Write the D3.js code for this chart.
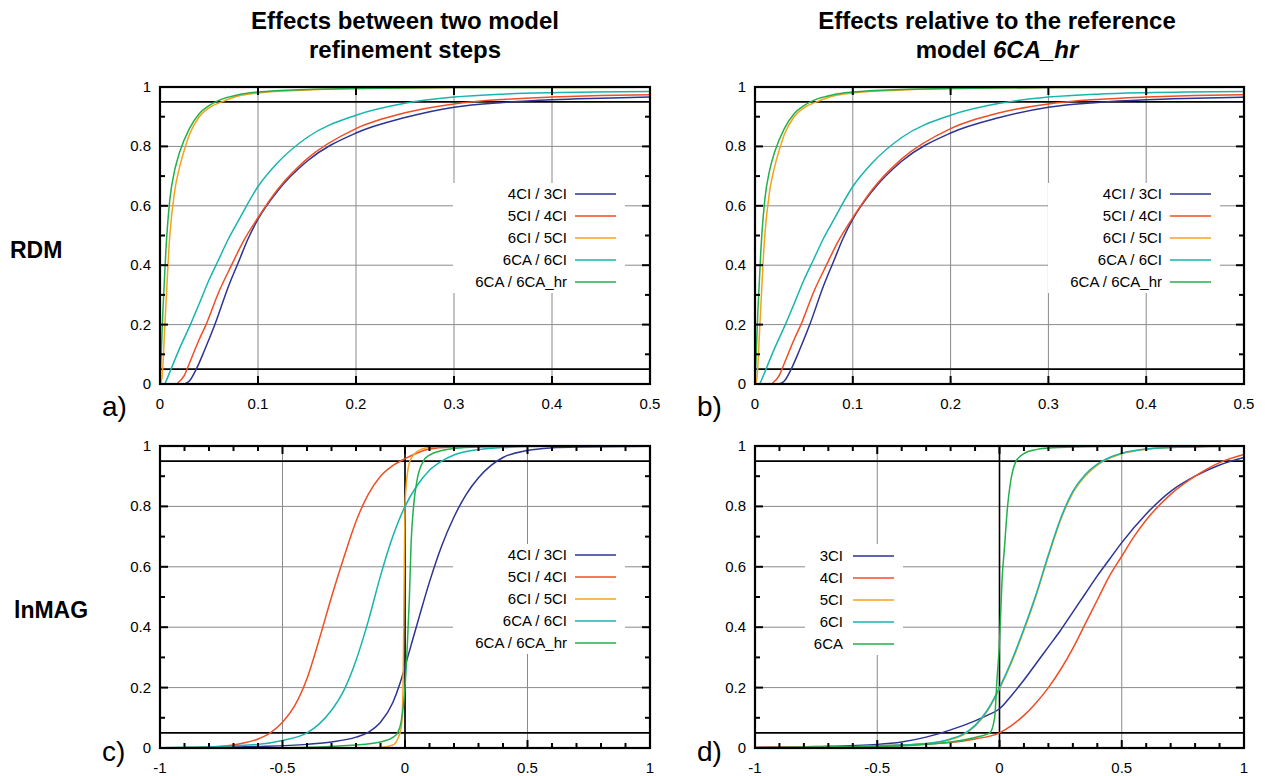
<!DOCTYPE html>
<html><head><meta charset="utf-8">
<script src="https://cdn.jsdelivr.net/npm/d3@7"></script>
<style>body{margin:0;background:#fff}svg{display:block;font-family:"Liberation Sans",Arial,sans-serif}</style>
</head><body>
<svg id="chart" width="1265" height="776"></svg>
<script>
// ---------- data ----------
const legendLeft = ["4CI / 3CI","5CI / 4CI","6CI / 5CI","6CA / 6CI","6CA / 6CA_hr"];
const legendRight = ["3CI","4CI","5CI","6CI","6CA"];
const colors = ["#2c3494","#f04e23","#f7a21b","#17b5ad","#22b04b"];

const rdmTicksX = [0,0.1,0.2,0.3,0.4,0.5];
const magTicksX = [-1,-0.5,0,0.5,1];
const magMinorX = [-0.9,-0.8,-0.7,-0.6,-0.4,-0.3,-0.2,-0.1,0.1,0.2,0.3,0.4,0.6,0.7,0.8,0.9];
const ticksY = [0,0.2,0.4,0.6,0.8,1];
const minorY = [0.1,0.3,0.5,0.7,0.9];
const refLines = [0.05,0.95];

// RDM: effects between steps (panel a) and relative to 6CA_hr (panel b)
const rdm_4CI_3CI = [[0.025,0],[0.03,0.01],[0.037,0.05],[0.045,0.11],[0.056,0.2],[0.07,0.33],[0.08,0.41],[0.09,0.49],[0.1,0.555],[0.12,0.65],[0.15,0.75],[0.2,0.845],[0.25,0.897],[0.3,0.932],[0.35,0.948],[0.4,0.957],[0.45,0.962],[0.5,0.966]];
const rdm_5CI_4CI = [[0.017,0],[0.025,0.03],[0.03,0.07],[0.04,0.15],[0.047,0.2],[0.06,0.31],[0.073,0.4],[0.085,0.48],[0.1,0.56],[0.12,0.655],[0.15,0.758],[0.2,0.86],[0.25,0.913],[0.3,0.943],[0.35,0.958],[0.4,0.966],[0.45,0.971],[0.5,0.974]];
const rdm_6CI_5CI = [[0,0],[0.002,0.02],[0.005,0.2],[0.01,0.5],[0.015,0.65],[0.02,0.73],[0.026,0.8],[0.03,0.84],[0.04,0.9],[0.05,0.93],[0.063,0.95],[0.08,0.97],[0.1,0.98],[0.15,0.99],[0.2,0.995],[0.3,0.998],[0.5,0.999]];
const rdm_6CA_6CI = [[0.005,0],[0.01,0.04],[0.02,0.12],[0.031,0.2],[0.04,0.27],[0.05,0.35],[0.06,0.42],[0.07,0.49],[0.08,0.55],[0.1,0.665],[0.12,0.745],[0.15,0.83],[0.2,0.905],[0.25,0.945],[0.3,0.966],[0.35,0.976],[0.4,0.981],[0.5,0.985]];
const rdm_6CA_6CAhr = [[0,0],[0.003,0.25],[0.006,0.45],[0.01,0.62],[0.015,0.72],[0.02,0.78],[0.03,0.86],[0.04,0.91],[0.05,0.937],[0.06,0.955],[0.07,0.966],[0.08,0.974],[0.1,0.983],[0.15,0.992],[0.2,0.995],[0.3,0.998],[0.5,0.999]];

// lnMAG: effects between steps (panel c)
const mag_4CI_3CI = [[-1,0.001],[-0.8,0.002],[-0.6,0.005],[-0.4,0.012],[-0.3,0.02],[-0.2,0.036],[-0.15,0.052],[-0.1,0.085],[-0.05,0.15],[-0.02,0.215],[0,0.27],[0.03,0.355],[0.06,0.44],[0.1,0.55],[0.15,0.67],[0.2,0.765],[0.25,0.84],[0.3,0.895],[0.35,0.935],[0.4,0.962],[0.5,0.985],[0.6,0.994],[0.7,0.997],[1,0.999]];
const mag_5CI_4CI = [[-1,0],[-0.9,0.001],[-0.8,0.003],[-0.7,0.01],[-0.65,0.018],[-0.6,0.03],[-0.55,0.05],[-0.5,0.085],[-0.45,0.14],[-0.4,0.23],[-0.35,0.36],[-0.3,0.5],[-0.25,0.63],[-0.2,0.75],[-0.15,0.84],[-0.1,0.9],[-0.05,0.935],[0,0.958],[0.05,0.977],[0.1,0.99],[0.2,0.997],[0.3,0.999],[1,1]];
const mag_6CI_5CI = [[-0.3,0],[-0.1,0.002],[-0.05,0.01],[-0.03,0.03],[-0.015,0.07],[-0.008,0.2],[-0.004,0.5],[0,0.8],[0.01,0.91],[0.02,0.95],[0.04,0.975],[0.07,0.99],[0.1,0.995],[0.2,0.999],[1,1]];
const mag_6CA_6CI = [[-1,0.001],[-0.8,0.004],[-0.6,0.012],[-0.5,0.025],[-0.4,0.05],[-0.35,0.08],[-0.3,0.125],[-0.25,0.19],[-0.2,0.29],[-0.15,0.42],[-0.1,0.57],[-0.05,0.7],[0,0.8],[0.05,0.87],[0.1,0.92],[0.15,0.95],[0.2,0.97],[0.3,0.988],[0.4,0.995],[0.6,0.999],[1,1]];
const mag_6CA_6CAhr = [[-1,0],[-0.5,0.001],[-0.2,0.01],[-0.1,0.02],[-0.05,0.035],[-0.03,0.05],[-0.015,0.09],[0,0.2],[0.01,0.35],[0.018,0.5],[0.025,0.68],[0.035,0.8],[0.05,0.89],[0.075,0.95],[0.1,0.97],[0.15,0.985],[0.2,0.992],[0.3,0.997],[0.5,0.999],[1,1]];

// lnMAG: relative to 6CA_hr (panel d)
const magRef_3CI = [[-1,0.002],[-0.75,0.005],[-0.5,0.012],[-0.4,0.02],[-0.3,0.036],[-0.2,0.06],[-0.1,0.09],[-0.05,0.108],[0,0.13],[0.05,0.175],[0.1,0.225],[0.15,0.28],[0.2,0.335],[0.25,0.39],[0.3,0.45],[0.35,0.51],[0.4,0.57],[0.45,0.625],[0.5,0.68],[0.6,0.775],[0.7,0.85],[0.8,0.9],[0.9,0.937],[1,0.962]];
const magRef_4CI = [[-1,0.002],[-0.6,0.005],[-0.4,0.01],[-0.2,0.018],[-0.1,0.03],[0,0.05],[0.05,0.075],[0.1,0.108],[0.15,0.15],[0.2,0.2],[0.25,0.26],[0.3,0.33],[0.35,0.41],[0.4,0.49],[0.45,0.57],[0.5,0.635],[0.55,0.7],[0.6,0.755],[0.7,0.84],[0.8,0.9],[0.9,0.945],[1,0.972]];
const magRef_5CI = [[-1,0.001],[-0.7,0.003],[-0.5,0.006],[-0.3,0.014],[-0.2,0.028],[-0.15,0.043],[-0.1,0.072],[-0.05,0.122],[0,0.196],[0.05,0.285],[0.1,0.39],[0.15,0.505],[0.2,0.635],[0.25,0.755],[0.3,0.845],[0.35,0.9],[0.4,0.937],[0.45,0.96],[0.5,0.974],[0.6,0.989],[0.7,0.995],[0.85,0.998],[1,0.999]];
const magRef_6CI = [[-1,0.001],[-0.7,0.003],[-0.5,0.007],[-0.3,0.015],[-0.2,0.03],[-0.15,0.045],[-0.1,0.075],[-0.05,0.125],[0,0.2],[0.05,0.29],[0.1,0.395],[0.15,0.51],[0.2,0.64],[0.25,0.76],[0.3,0.85],[0.35,0.905],[0.4,0.94],[0.45,0.962],[0.5,0.976],[0.6,0.99],[0.7,0.995],[0.85,0.998],[1,0.999]];
const magRef_6CA = [[-1,0.001],[-0.5,0.005],[-0.2,0.02],[-0.1,0.035],[-0.04,0.05],[-0.02,0.1],[-0.01,0.23],[0,0.35],[0.005,0.45],[0.01,0.55],[0.02,0.66],[0.033,0.8],[0.045,0.88],[0.068,0.95],[0.1,0.975],[0.15,0.988],[0.2,0.993],[0.3,0.997],[0.5,0.999],[1,1]];

// ---------- layout ----------
const panels = [
  {label:"a)", ly:416, box:[160,650,87,384], xd:[0,0.5], xt:rdmTicksX, xm:[], series:[rdm_4CI_3CI,rdm_5CI_4CI,rdm_6CI_5CI,rdm_6CA_6CI,rdm_6CA_6CAhr], names:legendLeft, leg:{tx:567,l0:575,l1:616,y0:194,box:[453,625,183,293]}},
  {label:"b)", ly:416, box:[755,1244,87,384], xd:[0,0.5], xt:rdmTicksX, xm:[], series:[rdm_4CI_3CI,rdm_5CI_4CI,rdm_6CI_5CI,rdm_6CA_6CI,rdm_6CA_6CAhr], names:legendLeft, leg:{tx:1162,l0:1170,l1:1211,y0:194,box:[1048,1220,183,293]}},
  {label:"c)", ly:761, box:[160,650,446,748], xd:[-1,1], xt:magTicksX, xm:magMinorX, series:[mag_4CI_3CI,mag_5CI_4CI,mag_6CI_5CI,mag_6CA_6CI,mag_6CA_6CAhr], names:legendLeft, leg:{tx:567,l0:575,l1:616,y0:555,box:[453,625,544,654]}},
  {label:"d)", ly:761, box:[755,1244,446,748], xd:[-1,1], xt:magTicksX, xm:magMinorX, series:[magRef_3CI,magRef_4CI,magRef_5CI,magRef_6CI,magRef_6CA], names:legendRight, leg:{tx:843,l0:853,l1:894,y0:556,box:[805,903,544,655]}}
];

const svg = d3.select("#chart");

// titles
const title = (x,y,t)=>svg.append("text").attr("x",x).attr("y",y).attr("text-anchor","middle").attr("font-size",24).attr("font-weight","bold").text(t);
title(405,29,"Effects between two model");
title(405,58,"refinement steps");
title(997,29,"Effects relative to the reference");
const t2 = svg.append("text").attr("x",997).attr("y",58).attr("text-anchor","middle").attr("font-size",24).attr("font-weight","bold");
t2.append("tspan").text("model ");
t2.append("tspan").attr("font-style","italic").text("6CA_hr");
svg.append("text").attr("x",10).attr("y",258).attr("font-size",23).attr("font-weight","bold").text("RDM");
svg.append("text").attr("x",14).attr("y",618).attr("font-size",23).attr("font-weight","bold").text("lnMAG");

panels.forEach((p,i)=>{
  const [L,R,T,B] = p.box;
  const x = d3.scaleLinear().domain(p.xd).range([L,R]);
  const y = d3.scaleLinear().domain([0,1]).range([B,T]);
  const g = svg.append("g");
  // grid
  g.selectAll(null).data(p.xt).join("line").attr("x1",d=>x(d)).attr("x2",d=>x(d)).attr("y1",T).attr("y2",B).attr("stroke","#8a8a8a").attr("stroke-width",1);
  g.selectAll(null).data(ticksY).join("line").attr("y1",d=>y(d)).attr("y2",d=>y(d)).attr("x1",L).attr("x2",R).attr("stroke","#8a8a8a").attr("stroke-width",1);
  // legend background
  const lb = p.leg.box;
  g.append("rect").attr("x",lb[0]).attr("y",lb[2]).attr("width",lb[1]-lb[0]).attr("height",lb[3]-lb[2]).attr("fill","#fff");
  // ref lines
  g.selectAll(null).data(refLines).join("line").attr("y1",d=>y(d)).attr("y2",d=>y(d)).attr("x1",L).attr("x2",R).attr("stroke","#000").attr("stroke-width",1.6);
  if (p.xd[0] < 0) g.append("line").attr("x1",x(0)).attr("x2",x(0)).attr("y1",T).attr("y2",B).attr("stroke","#000").attr("stroke-width",1.6);
  // curves
  const cid = "clip"+i;
  svg.append("clipPath").attr("id",cid).append("rect").attr("x",L).attr("y",T-1).attr("width",R-L).attr("height",B-T+2);
  const line = d3.line().x(d=>x(d[0])).y(d=>y(d[1])).curve(d3.curveMonotoneX);
  const cg = g.append("g").attr("clip-path",`url(#${cid})`);
  p.series.forEach((s,k)=>{
    cg.append("path").attr("d",line(s)).attr("fill","none").attr("stroke",colors[k]).attr("stroke-width",1.5);
  });
  // legend
  p.names.forEach((n,k)=>{
    const yy = p.leg.y0 + k*22;
    g.append("text").attr("x",p.leg.tx).attr("y",yy+5).attr("text-anchor","end").attr("font-size",15).text(n);
    g.append("line").attr("x1",p.leg.l0).attr("x2",p.leg.l1).attr("y1",yy).attr("y2",yy).attr("stroke",colors[k]).attr("stroke-width",1.5);
  });
  // frame
  g.append("rect").attr("x",L).attr("y",T).attr("width",R-L).attr("height",B-T).attr("fill","none").attr("stroke","#000").attr("stroke-width",2.2);
  // ticks
  const tk = (xs,len) => {
    g.selectAll(null).data(xs).join("line").attr("x1",d=>x(d)).attr("x2",d=>x(d)).attr("y1",B).attr("y2",B-len).attr("stroke","#000").attr("stroke-width",2);
    g.selectAll(null).data(xs).join("line").attr("x1",d=>x(d)).attr("x2",d=>x(d)).attr("y1",T).attr("y2",T+len).attr("stroke","#000").attr("stroke-width",2);
  };
  const tky = (ys,len) => {
    g.selectAll(null).data(ys).join("line").attr("y1",d=>y(d)).attr("y2",d=>y(d)).attr("x1",L).attr("x2",L+len).attr("stroke","#000").attr("stroke-width",2);
    g.selectAll(null).data(ys).join("line").attr("y1",d=>y(d)).attr("y2",d=>y(d)).attr("x1",R).attr("x2",R-len).attr("stroke","#000").attr("stroke-width",2);
  };
  tk(p.xt,8); tk(p.xm,5); tky(ticksY,8); tky(minorY,5);
  // tick labels
  g.selectAll(null).data(p.xt).join("text").attr("x",d=>x(d)).attr("y",B+25).attr("text-anchor","middle").attr("font-size",15).text(d=>String(d));
  g.selectAll(null).data(ticksY).join("text").attr("x",L-9).attr("y",d=>y(d)+5).attr("text-anchor","end").attr("font-size",15).text(d=>String(d));
  // panel label
  svg.append("text").attr("x",L-58).attr("y",p.ly).attr("font-size",28).text(p.label);
});
</script>
</body></html>
